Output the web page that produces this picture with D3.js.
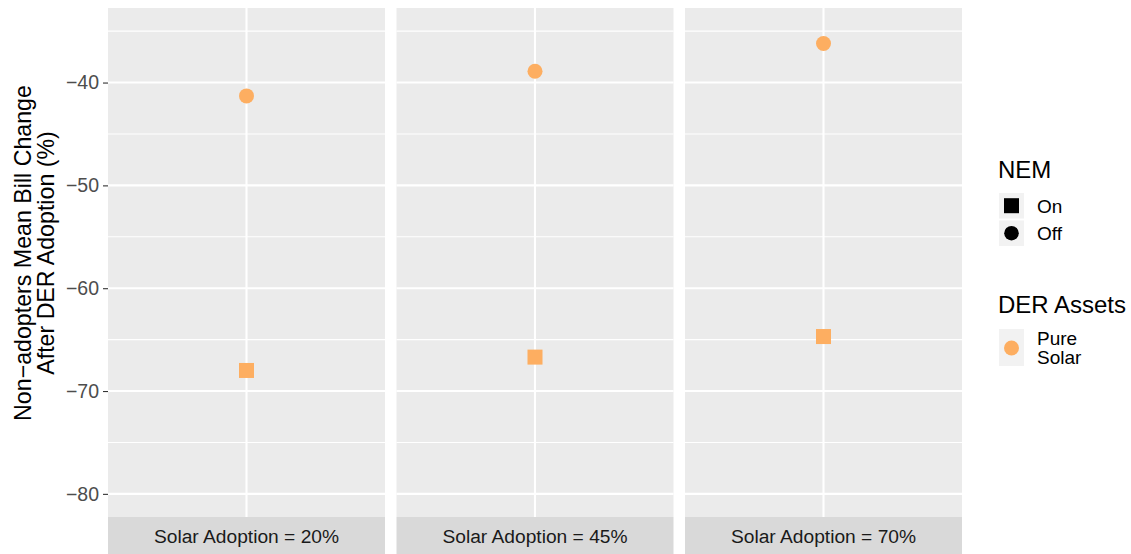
<!DOCTYPE html>
<html>
<head>
<meta charset="utf-8">
<script src="https://cdn.jsdelivr.net/npm/d3@7"></script>
<style>
  body { margin: 0; background: #fff; }
  svg { display: block; font-family: "Liberation Sans", Arial, sans-serif; }
</style>
</head>
<body>
<svg id="chart" width="1131" height="554"></svg>
<script>
// facets (solar adoption levels) and the two NEM series
var facets = ["Solar Adoption = 20%", "Solar Adoption = 45%", "Solar Adoption = 70%"];
var nemOn = [-68.0, -66.7, -64.7];
var nemOff = [-41.3, -38.9, -36.2];
var yMajor = [-80, -70, -60, -50, -40];
var yMinor = [-75, -65, -55, -45, -35];
var nemLabels = ["On", "Off"];
var derLabels = ["Pure", "Solar"];
var orange = "#FDAE61";

var svg = d3.select("#chart"),
  panelTop = 8, panelBottom = 517, stripBottom = 554,
  panelW = 277, gap = 11.5, left0 = 108;

var y = d3.scaleLinear().domain([-82.25, -32.75]).range([panelBottom, panelTop]);
var xPanel = d3.scaleBand().domain(facets).range([left0, left0 + 3 * panelW + 2 * gap]).paddingInner(gap / (panelW + gap));
var xInner = d3.scalePoint().domain(["Pure Solar"]).range([0, xPanel.bandwidth()]).padding(0.5);

var points = [];
facets.forEach(function(f, i){
  points.push({facet: f, nem: "On", value: nemOn[i]});
  points.push({facet: f, nem: "Off", value: nemOff[i]});
});

var panels = svg.selectAll("g.panel").data(facets).enter().append("g")
  .attr("class", "panel")
  .attr("transform", function(d){ return "translate(" + xPanel(d) + ",0)"; });

panels.append("rect")
  .attr("x", 0).attr("y", panelTop)
  .attr("width", xPanel.bandwidth()).attr("height", panelBottom - panelTop)
  .attr("fill", "#EBEBEB");

panels.each(function(f){
  var g = d3.select(this);
  g.selectAll("line.minor").data(yMinor).enter().append("line")
    .attr("x1", 0).attr("x2", xPanel.bandwidth())
    .attr("y1", function(d){ return y(d); }).attr("y2", function(d){ return y(d); })
    .attr("stroke", "#fff").attr("stroke-width", 1.1);
  g.selectAll("line.major").data(yMajor).enter().append("line")
    .attr("x1", 0).attr("x2", xPanel.bandwidth())
    .attr("y1", function(d){ return y(d); }).attr("y2", function(d){ return y(d); })
    .attr("stroke", "#fff").attr("stroke-width", 2.1);
  g.append("line")
    .attr("x1", xInner("Pure Solar")).attr("x2", xInner("Pure Solar"))
    .attr("y1", panelTop).attr("y2", panelBottom)
    .attr("stroke", "#fff").attr("stroke-width", 2.1);

  var pts = points.filter(function(p){ return p.facet === f; });
  var cx = xInner("Pure Solar");
  g.selectAll("rect.pt").data(pts.filter(function(p){ return p.nem === "On"; })).enter().append("rect")
    .attr("x", cx - 7.5).attr("y", function(d){ return y(d.value) - 7.5; })
    .attr("width", 15).attr("height", 15).attr("fill", orange);
  g.selectAll("circle.pt").data(pts.filter(function(p){ return p.nem === "Off"; })).enter().append("circle")
    .attr("cx", cx).attr("cy", function(d){ return y(d.value); })
    .attr("r", 7.5).attr("fill", orange);

  // strip at the bottom
  g.append("rect")
    .attr("x", 0).attr("y", panelBottom)
    .attr("width", xPanel.bandwidth()).attr("height", stripBottom - panelBottom)
    .attr("fill", "#D9D9D9");
  g.append("text")
    .attr("x", xPanel.bandwidth() / 2).attr("y", (panelBottom + stripBottom) / 2 + 7)
    .attr("text-anchor", "middle").attr("font-size", 19.2).attr("fill", "#1A1A1A")
    .text(f);
});

// y axis
var yAxis = d3.axisLeft(y).tickValues(yMajor).tickSize(5).tickPadding(4)
  .tickFormat(function(d){ return d3.format("d")(d).replace("-", "\u2212"); });
var ax = svg.append("g").attr("transform", "translate(" + left0 + ",0)").call(yAxis);
ax.select(".domain").remove();
ax.selectAll(".tick line").attr("stroke", "#333").attr("stroke-width", 1.1);
ax.selectAll(".tick text").attr("fill", "#4D4D4D").attr("font-size", 19.5)
  .attr("font-family", "Liberation Sans, Arial, sans-serif");

// y axis title (two lines)
var titleG = svg.append("g").attr("transform", "translate(0,253) rotate(-90)");
titleG.append("text").attr("x", 0).attr("y", 31).attr("text-anchor", "middle")
  .attr("font-size", 23.2).attr("fill", "#000").text("Non\u2212adopters Mean Bill Change");
titleG.append("text").attr("x", 0).attr("y", 54).attr("text-anchor", "middle")
  .attr("font-size", 23.2).attr("fill", "#000").text("After DER Adoption (%)");

// legends
var keyX = 999, keyW = 25, labelX = 1037;
var leg = svg.append("g");
leg.append("text").attr("x", 998).attr("y", 178).attr("font-size", 24).text("NEM");
var nemKeys = leg.selectAll("g.nem").data(nemLabels).enter().append("g")
  .attr("transform", function(d, i){ return "translate(" + keyX + "," + (193 + i * 27.5) + ")"; });
nemKeys.append("rect").attr("width", keyW).attr("height", 25.5).attr("fill", "#F2F2F2");
nemKeys.filter(function(d){ return d === "On"; }).append("rect")
  .attr("x", 5).attr("y", 5.2).attr("width", 15).attr("height", 15).attr("fill", "#000");
nemKeys.filter(function(d){ return d === "Off"; }).append("circle")
  .attr("cx", 12.5).attr("cy", 12.7).attr("r", 7.3).attr("fill", "#000");
nemKeys.append("text").attr("x", labelX - keyX).attr("y", 19.8)
  .attr("font-size", 19).attr("fill", "#000").text(function(d){ return d; });

leg.append("text").attr("x", 998).attr("y", 313).attr("font-size", 24).text("DER Assets");
var derKey = leg.append("g").attr("transform", "translate(" + keyX + ",329)");
derKey.append("rect").attr("width", keyW).attr("height", 37).attr("fill", "#F2F2F2");
derKey.append("circle").attr("cx", 12.5).attr("cy", 19).attr("r", 7.5).attr("fill", orange);
derKey.selectAll("text").data(derLabels).enter().append("text")
  .attr("x", labelX - keyX).attr("y", function(d, i){ return 15.5 + i * 19.5; })
  .attr("font-size", 19).attr("fill", "#000").text(function(d){ return d; });
</script>
</body>
</html>
